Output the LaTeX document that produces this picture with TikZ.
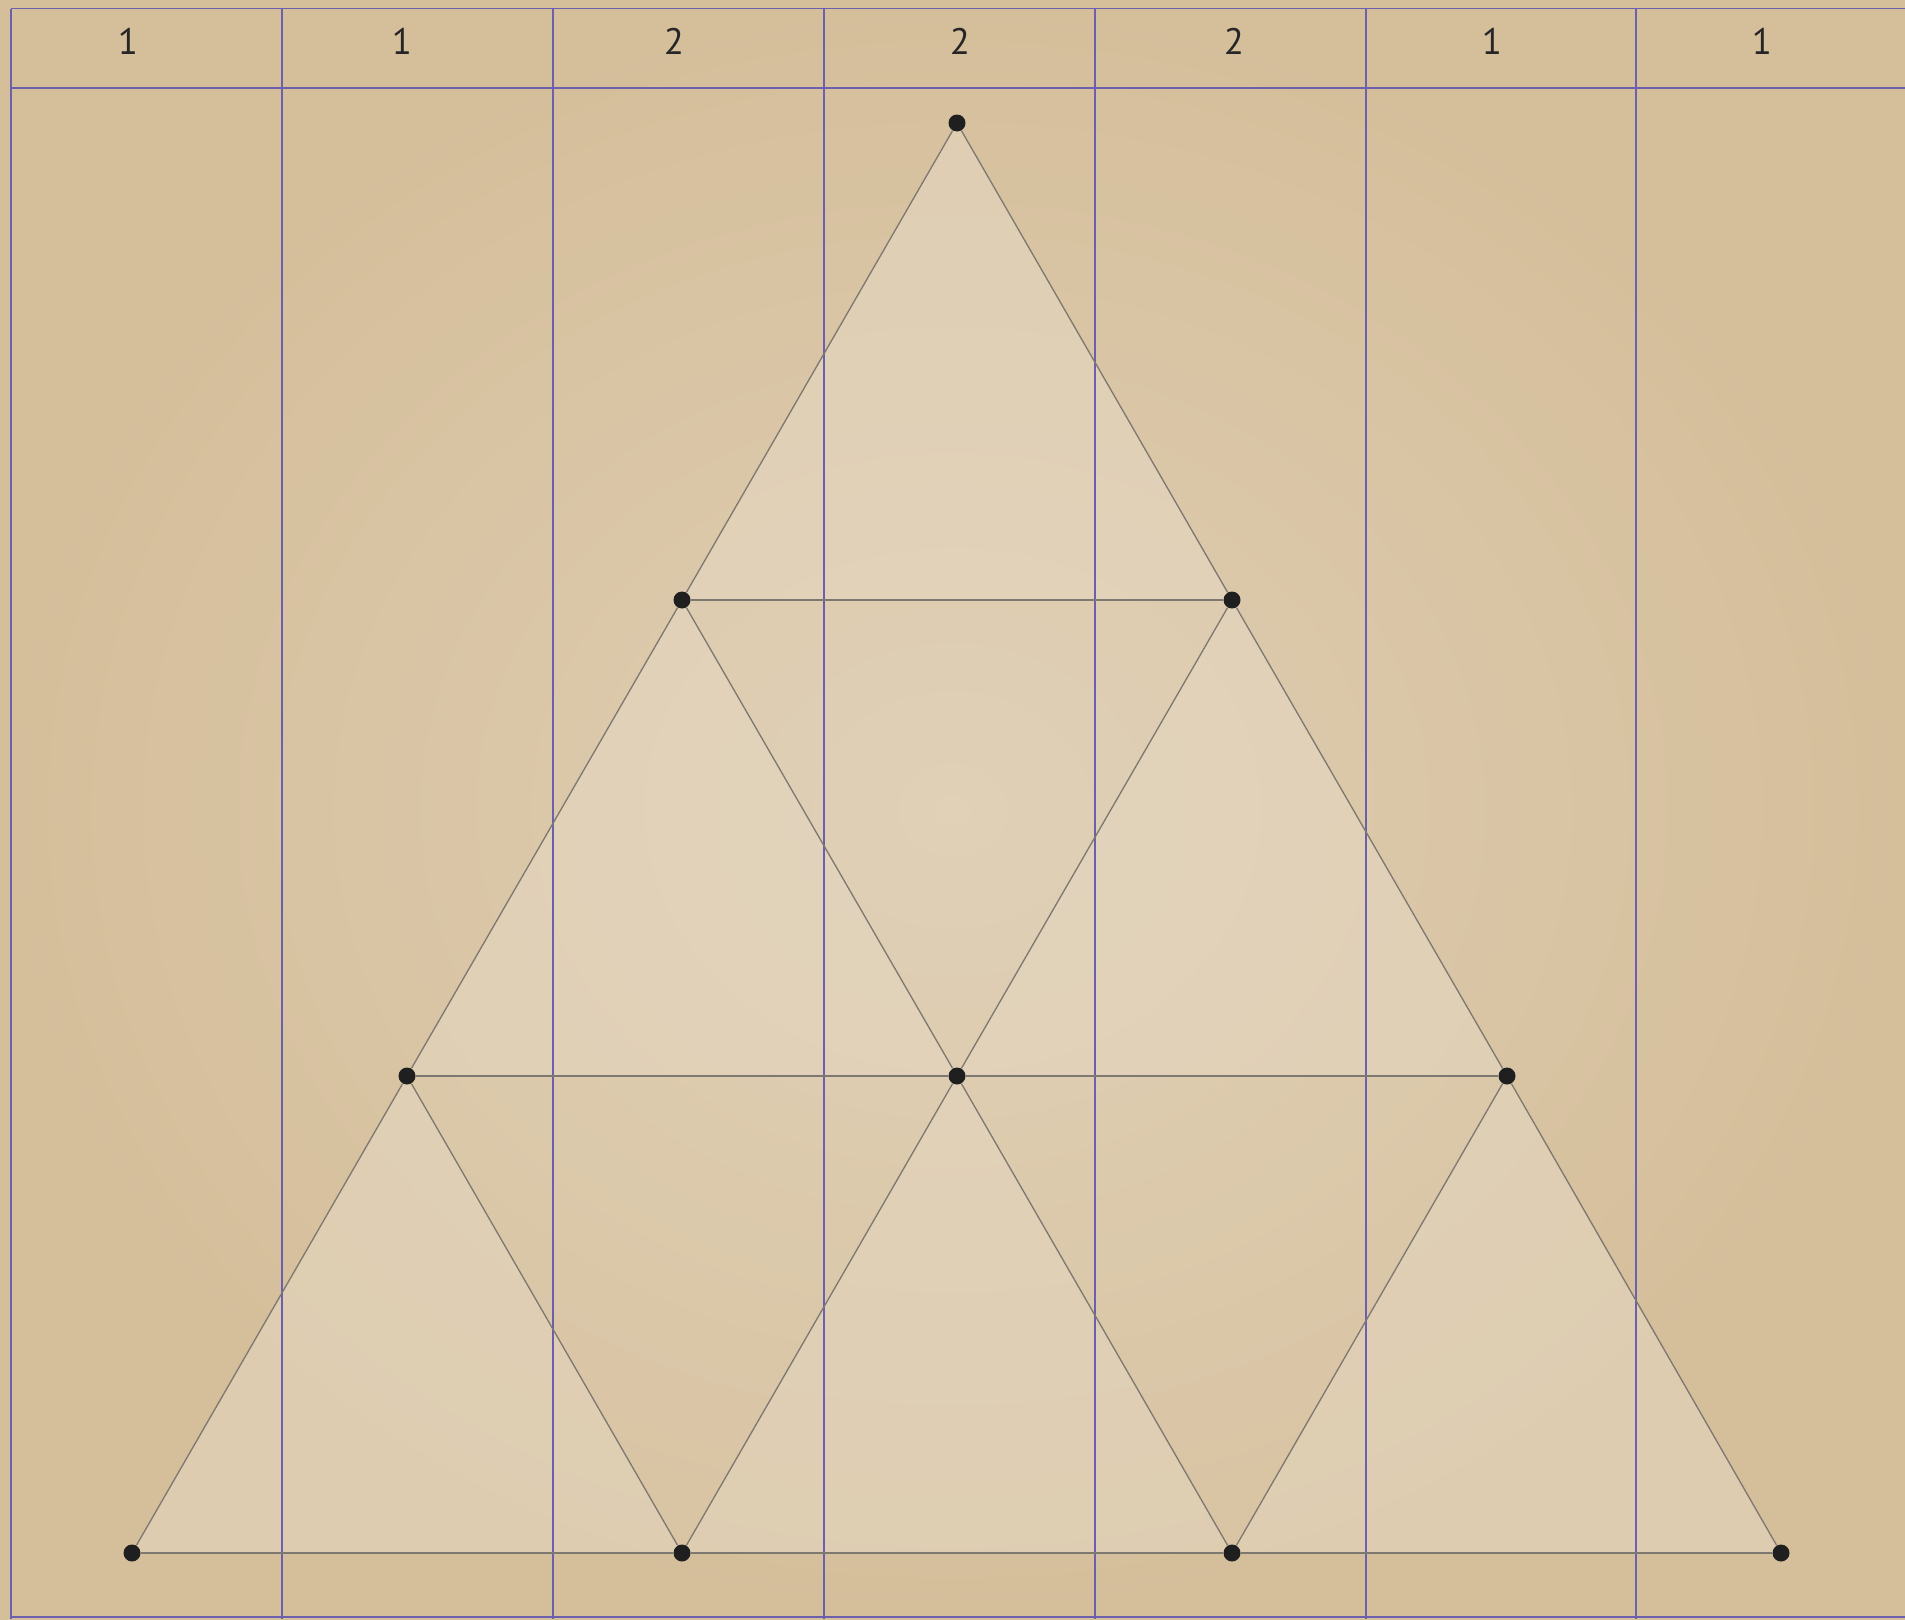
\documentclass[tikz,border=0pt]{standalone}
\usepackage{fontspec}
\setmainfont{PT Sans}
\definecolor{paperin}{HTML}{DFCFB4}
\definecolor{paperedge}{HTML}{D5BE9A}
\definecolor{gridc}{HTML}{6B5FAE}
\definecolor{linec}{HTML}{7D7870}
\definecolor{upfill}{HTML}{E6D9C4}
\tikzset{
  dot/.style={circle,fill=black!88,inner sep=0pt,minimum size=17*0.02cm},
  gridline/.style={draw=gridc,line width=0.95pt},
  tri/.style={draw=linec,line width=0.75pt},
  head/.style={font=\fontsize{21}{24}\selectfont,text=black!85,inner sep=0pt},
  upt/.style={fill=upfill,fill opacity=0.45,draw=none}
}
\begin{document}
\begin{tikzpicture}[x=0.02cm,y=-0.02cm]
\useasboundingbox (0,0) rectangle (1905,1619);
% background
\shade[inner color=paperin,outer color=paperedge] (0,0) rectangle (1905,1619);
% vertices
\coordinate (A) at (957,123);
\coordinate (B1) at (682,600);
\coordinate (B2) at (1232,600);
\coordinate (C1) at (407,1076);
\coordinate (C2) at (957,1076);
\coordinate (C3) at (1507,1076);
\coordinate (D1) at (132,1553);
\coordinate (D2) at (682,1553);
\coordinate (D3) at (1232,1553);
\coordinate (D4) at (1781,1553);
% light fills
\fill[fill=upfill,fill opacity=0.2] (A) -- (D1) -- (D4) -- cycle;
\fill[upt] (A) -- (B1) -- (B2) -- cycle;
\fill[upt] (B1) -- (C1) -- (C2) -- cycle;
\fill[upt] (B2) -- (C2) -- (C3) -- cycle;
\fill[upt] (C1) -- (D1) -- (D2) -- cycle;
\fill[upt] (C2) -- (D2) -- (D3) -- cycle;
\fill[upt] (C3) -- (D3) -- (D4) -- cycle;
% grid
\draw[gridline] (11,8.5) -- (1905,8.5);
\draw[gridline] (11,88) -- (1905,88);
\draw[gridline] (11,1617) -- (1905,1617);
\foreach \x in {11,282,553,824,1095,1366,1636}
  \draw[gridline] (\x,8.5) -- (\x,1619);
% header labels
\node[head] (h1) at (128,41) {1};
\node[head] (h2) at (402,41) {1};
\node[head] (h3) at (674,41) {2};
\node[head] (h4) at (960,41) {2};
\node[head] (h5) at (1234,41) {2};
\node[head] (h6) at (1492,41) {1};
\node[head] (h7) at (1762,41) {1};
% nodes
\node[dot] (a) at (A) {};
\node[dot] (b1) at (B1) {};
\node[dot] (b2) at (B2) {};
\node[dot] (c1) at (C1) {};
\node[dot] (c2) at (C2) {};
\node[dot] (c3) at (C3) {};
\node[dot] (d1) at (D1) {};
\node[dot] (d2) at (D2) {};
\node[dot] (d3) at (D3) {};
\node[dot] (d4) at (D4) {};
% edges
\foreach \p/\q in {a/b1,a/b2,b1/b2,b1/c1,b1/c2,b2/c2,b2/c3,c1/c2,c2/c3,c1/d1,c1/d2,c2/d2,c2/d3,c3/d3,c3/d4,d1/d2,d2/d3,d3/d4}
  \draw[tri] (\p) -- (\q);
\end{tikzpicture}
\end{document}
